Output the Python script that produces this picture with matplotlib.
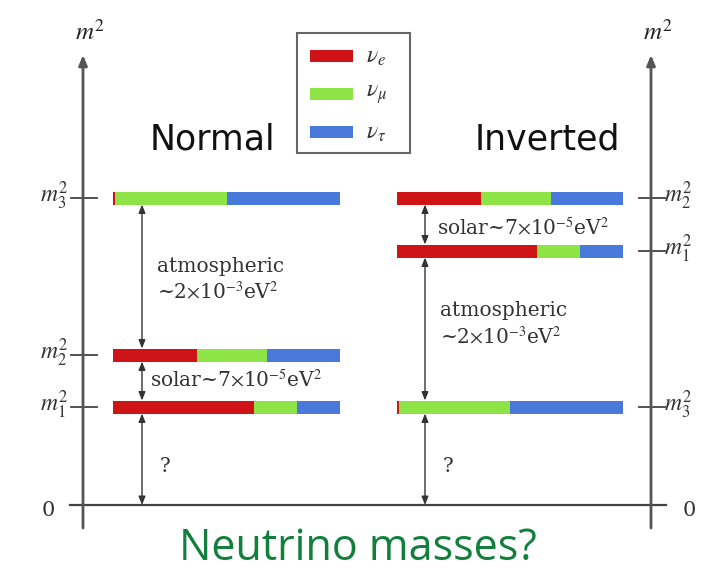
import matplotlib.pyplot as plt
from matplotlib.patches import Rectangle

plt.rcParams['mathtext.fontset'] = 'stix'

# m^2 levels (arbitrary units above zero) and flavour content of each mass state
states = ['m_1', 'm_2', 'm_3']
normal_levels = [98, 150, 307]
inverted_levels = [254, 307, 98]
nu_e = [0.62, 0.37, 0.01]
nu_mu = [0.19, 0.31, 0.49]
nu_tau = [0.19, 0.32, 0.50]
flavours = [r'$\nu_e$', r'$\nu_\mu$', r'$\nu_\tau$']
colors = ['#cf1418', '#8ee447', '#4a79dc']

fig = plt.figure(figsize=(7.11, 5.71), dpi=100)
ax = fig.add_axes([0, 0, 1, 1])
ax.set_xlim(0, 711)
ax.set_ylim(-66, 505)
ax.axis('off')

serif = 'DejaVu Serif'
axis_col = '#555555'

# vertical m^2 axes with arrow heads
for x in [83, 651]:
    ax.annotate('', xy=(x, 450), xytext=(x, -23),
                arrowprops=dict(arrowstyle='-|>,head_length=0.6,head_width=0.25',
                                color=axis_col, lw=2, shrinkA=0, shrinkB=0))
    ax.text(x + 7, 473, r'$m^2$', fontsize=18, ha='center', va='center', color='#222')

# zero line
ax.plot([70, 666], [0, 0], color='#444', lw=1.6)
ax.text(48, -5, '0', fontsize=15, family=serif, ha='center', va='center', color='#333')
ax.text(689, -5, '0', fontsize=15, family=serif, ha='center', va='center', color='#333')


def draw_side(levels, left, width, arrow_x, tick_x, label_x, ha):
    for i, lev in enumerate(levels):
        fr = [nu_e[i], nu_mu[i], nu_tau[i]]
        start = left
        for f, c in zip(fr, colors):
            ax.barh(lev, f * width, left=start, height=13, color=c, edgecolor='none')
            start += f * width
        ax.plot([tick_x - 13, tick_x + 13], [lev, lev], color='#444', lw=1.3)
        ax.text(label_x, lev + 2, r'$%s^2$' % states[i], fontsize=17, ha=ha,
                va='center', color='#333')
    # arrows between neighbouring levels and down to zero
    order = sorted(levels)
    stops = [0] + order
    for lo, hi in zip(stops[:-1], stops[1:]):
        y0 = lo + (6.5 if lo > 0 else 0)
        y1 = hi - 6.5
        ax.annotate('', xy=(arrow_x, y0), xytext=(arrow_x, y1),
                    arrowprops=dict(arrowstyle='<|-|>,head_length=0.5,head_width=0.2',
                                    color='#333', lw=1, shrinkA=0, shrinkB=0))


draw_side(normal_levels, 113, 227, 142, 84, 68, 'right')
draw_side(inverted_levels, 397, 226, 425, 652, 664, 'left')

fs = 14.5
# normal ordering annotations
ax.text(157, 238, 'atmospheric', fontsize=fs, family=serif, va='center', color='#333')
ax.text(157, 213, r'~2$\times$10$^{-3}$eV$^2$', fontsize=fs, family=serif, va='center', color='#333')
ax.text(150, 125, r'solar~7$\times$10$^{-5}$eV$^2$', fontsize=fs, family=serif, va='center', color='#333')
ax.text(160, 39, '?', fontsize=fs, family=serif, va='center', color='#333')

# inverted ordering annotations
ax.text(437, 277, r'solar~7$\times$10$^{-5}$eV$^2$', fontsize=fs, family=serif, va='center', color='#333')
ax.text(440, 194, 'atmospheric', fontsize=fs, family=serif, va='center', color='#333')
ax.text(440, 168, r'~2$\times$10$^{-3}$eV$^2$', fontsize=fs, family=serif, va='center', color='#333')
ax.text(443, 39, '?', fontsize=fs, family=serif, va='center', color='#333')

# titles
ax.text(212, 365, 'Normal', fontsize=25, ha='center', va='center', color='#111')
ax.text(547, 365, 'Inverted', fontsize=25, ha='center', va='center', color='#111')

# legend box
ax.add_patch(Rectangle((297, 352), 113, 120, fill=False, edgecolor='#666', lw=1.5))
for k, (lab, c) in enumerate(zip(flavours, colors)):
    yy = 449 - 38 * k
    ax.barh(yy, 43, left=310, height=12, color=c, edgecolor='none')
    ax.text(366, yy, lab, fontsize=17, va='center', color='#333')

# caption
ax.text(358, -55, 'Neutrino masses?', fontsize=31, family='Open Sans',
        ha='center', va='baseline', color='#12803c')

fig.savefig('out.png', dpi=100)
